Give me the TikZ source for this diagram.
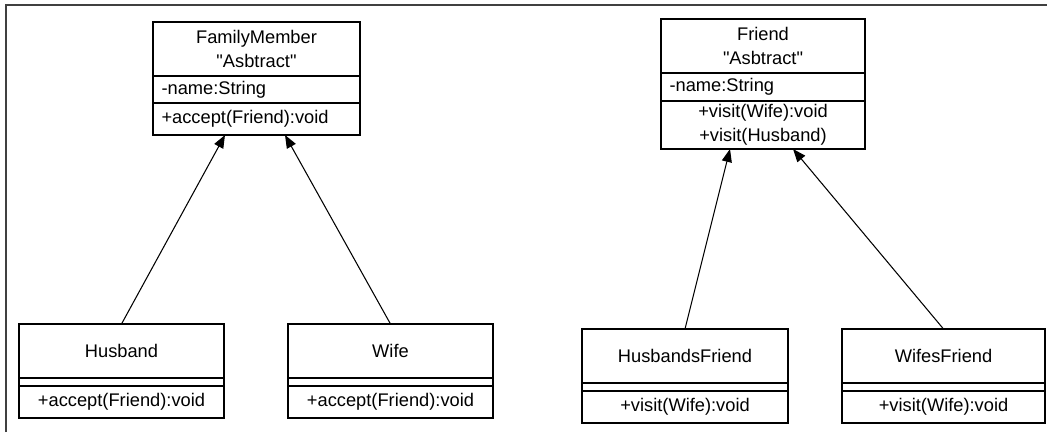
\documentclass[tikz,border=0pt]{standalone}
\usepackage{fontspec}
\setmainfont{Liberation Sans}
\usetikzlibrary{positioning}
\usetikzlibrary{arrows.meta}

\tikzset{
  cls/.style={draw, black, line width=0.7pt, outer sep=0pt, inner xsep=0.17cm, inner ysep=0pt,
    font=\fontsize{10.4}{13.6}\selectfont},
  inh/.style={line width=0.6pt, black, -{Triangle[length=0.26cm,width=0.2cm]}}
}

\begin{document}
\begin{tikzpicture}
\useasboundingbox (0,0) rectangle (20.94,-8.68);

\coordinate (f1) at (0.12,-0.1);
\coordinate (f2) at (20.94,-0.1);
\coordinate (f3) at (0.12,-8.64);

\coordinate (fm) at (3.06,-0.44);
\coordinate (fr) at (13.22,-0.38);
\coordinate (hu) at (0.38,-6.48);
\coordinate (wi) at (5.76,-6.48);
\coordinate (hf) at (11.64,-6.58);
\coordinate (wf) at (16.84,-6.58);

\draw[line width=1.1pt, black!75] (f3)--(f1)--(f2);

\node[cls, anchor=north west, text width=3.80cm, minimum height=1.08cm, align=center] (fm1) at (fm) {FamilyMember\\\textquotedbl Asbtract\textquotedbl};
\node[cls, below=0pt of fm1, text width=3.80cm, minimum height=0.54cm, align=left] (fm2) {-name:String};
\node[cls, below=0pt of fm2, text width=3.80cm, minimum height=0.64cm, align=left] (fm3) {+accept(Friend):void};

\node[cls, anchor=north west, text width=3.74cm, minimum height=1.08cm, align=center] (fr1) at (fr) {Friend\\\textquotedbl Asbtract\textquotedbl};
\node[cls, below=0pt of fr1, text width=3.74cm, minimum height=0.56cm, align=left] (fr2) {-name:String};
\node[cls, below=0pt of fr2, text width=3.74cm, minimum height=0.96cm, align=center] (fr3) {+visit(Wife):void\\+visit(Husband)};

\node[cls, anchor=north west, text width=3.76cm, minimum height=1.08cm, align=center] (hu1) at (hu) {Husband};
\node[cls, below=0pt of hu1, text width=3.76cm, minimum height=0.16cm] (hu2) {};
\node[cls, below=0pt of hu2, text width=3.76cm, minimum height=0.64cm, align=center] (hu3) {+accept(Friend):void};

\node[cls, anchor=north west, text width=3.76cm, minimum height=1.08cm, align=center] (wi1) at (wi) {Wife};
\node[cls, below=0pt of wi1, text width=3.76cm, minimum height=0.16cm] (wi2) {};
\node[cls, below=0pt of wi2, text width=3.76cm, minimum height=0.64cm, align=center] (wi3) {+accept(Friend):void};

\node[cls, anchor=north west, text width=3.78cm, minimum height=1.08cm, align=center] (hf1) at (hf) {HusbandsFriend};
\node[cls, below=0pt of hf1, text width=3.78cm, minimum height=0.16cm] (hf2) {};
\node[cls, below=0pt of hf2, text width=3.78cm, minimum height=0.64cm, align=center] (hf3) {+visit(Wife):void};

\node[cls, anchor=north west, text width=3.72cm, minimum height=1.08cm, align=center] (wf1) at (wf) {WifesFriend};
\node[cls, below=0pt of wf1, text width=3.72cm, minimum height=0.16cm] (wf2) {};
\node[cls, below=0pt of wf2, text width=3.72cm, minimum height=0.64cm, align=center] (wf3) {+visit(Wife):void};

\draw[inh] (hu1.north) -- ([xshift=-0.63cm]fm3.south);
\draw[inh] (wi1.north) -- ([xshift=0.57cm]fm3.south);
\draw[inh] (hf1.north) -- ([xshift=-0.66cm]fr3.south);
\draw[inh] (wf1.north) -- ([xshift=0.6cm]fr3.south);
\end{tikzpicture}
\end{document}
